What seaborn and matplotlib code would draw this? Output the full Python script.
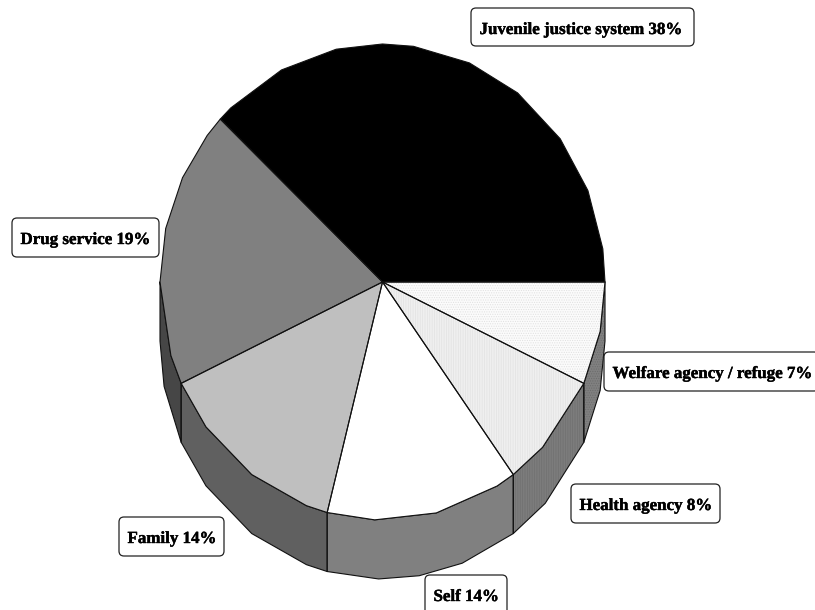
import numpy as np
import matplotlib
matplotlib.use("Agg")
import matplotlib.pyplot as plt
from matplotlib.patches import FancyBboxPatch
import matplotlib.patheffects as pe
import seaborn as sns

categories = ["Juvenile justice system", "Drug service", "Family", "Self", "Health agency", "Welfare agency / refuge"]
shares = [38, 19, 14, 14, 8, 7]
top_colors = ["#000000", "#808080", "#bfbfbf", "#ffffff", "#efefef", "#fbfbfb"]
side_colors = ["#000000", "#464646", "#606060", "#808080", "#7c7c7c", "#808080"]
hatches = [None, None, None, None, "|||||||", "......."]
top_hatch_colors = [None, None, None, None, "#e2e2e2", "#e0e0e0"]
side_hatch_colors = [None, None, None, None, "#707070", "#6c6c6c"]
facet_angles = [0, 8, 22.6, 37, 52.6, 67, 82, 90, 102, 117, 133, 142, 154, 167, 180,
                198, 217.5, 234, 250, 268, 284, 301, 316, 348, 360]
wall_angles = [180, 191, 217.5, 234, 250, 269, 279.5, 291, 317, 348, 360]
label_boxes = [(471, 8, 223, 38), (12, 218, 147, 39), (119, 517, 105, 39),
               (425, 575, 82, 40), (571, 484, 149, 39), (604, 352, 215, 39)]

sns.set_theme(style="white")
plt.rcParams["hatch.linewidth"] = 0.5
plt.rcParams["font.family"] = ["Liberation Serif", "DejaVu Serif"]

W, H = 815, 610
CX, CY, RX, RY, DEPTH = 382.5, 282, 222.5, 238, 59
fig = plt.figure(figsize=(W / 100, H / 100), dpi=100, facecolor="white")
ax = fig.add_axes([0, 0, 1, 1])
ax.set_xlim(-CX / RX, (W - CX) / RX)
ax.set_ylim(-(H - CY) / RY, CY / RY)
ax.axis("off")
d = DEPTH / RY


def arc(a0, a1, facets):
    inner = [a for a in facets if a0 < a < a1]
    t = np.radians([a0] + inner + [a1])
    return np.cos(t), np.sin(t)


bounds = np.concatenate([[0], np.cumsum(shares) * 3.6])

# side wall (front half only)
for i in range(len(shares)):
    a0, a1 = max(bounds[i], 180), bounds[i + 1]
    if a1 <= 180:
        continue
    x, y = arc(a0, a1, facet_angles)
    xb, yb = arc(a0, a1, wall_angles)
    px = np.concatenate([x, xb[::-1]])
    py = np.concatenate([y, yb[::-1] - d])
    ax.fill(px, py, facecolor=side_colors[i], edgecolor="none", zorder=1)
    if hatches[i]:
        ax.fill(px, py, facecolor="none", edgecolor=side_hatch_colors[i], hatch=hatches[i], lw=0, zorder=1.1)
    ax.plot(np.append(px, px[0]), np.append(py, py[0]), color="#111111", lw=0.8, zorder=1.2)

# top face
for i in range(len(shares)):
    x, y = arc(bounds[i], bounds[i + 1], facet_angles)
    px = np.concatenate([[0], x])
    py = np.concatenate([[0], y])
    ax.fill(px, py, facecolor=top_colors[i], edgecolor="none", zorder=2)
    if hatches[i]:
        ax.fill(px, py, facecolor="none", edgecolor=top_hatch_colors[i], hatch=hatches[i], lw=0, zorder=2.1)
    ax.plot(np.append(px, 0), np.append(py, 0), color="#111111", lw=0.8, zorder=2.2)

# labels in an overlay with pixel units
ov = fig.add_axes([0, 0, 1, 1], facecolor="none")
ov.set_xlim(0, W)
ov.set_ylim(H, 0)
ov.axis("off")
for name, share, (bx, by, bw, bh) in zip(categories, shares, label_boxes):
    ov.add_patch(FancyBboxPatch((bx + 4, by + 4), bw - 8, bh - 8, boxstyle="round,pad=4,rounding_size=5",
                                facecolor="white", edgecolor="#222222", lw=0.9, zorder=3))
    t = ov.text(bx + 8.5, by + 22, f"{name} {share}%", ha="left", va="center", fontsize=12.2,
                fontweight="bold", color="black", zorder=4)
    t.set_path_effects([pe.withStroke(linewidth=0.3, foreground="black")])

fig.savefig("out.png", dpi=100)
